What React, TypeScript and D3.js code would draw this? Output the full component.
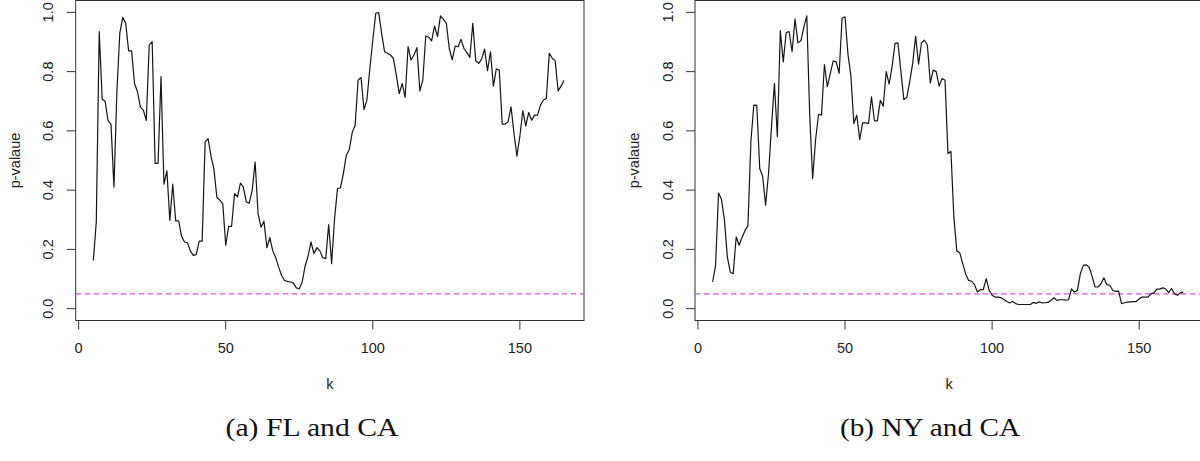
import React from "react";
import * as d3 from "d3";

// First k value; each series holds one p-value per k, k = kStart, kStart + 1, ...
const kStart = 5;

// p-values of the two-sample test, FL vs CA
const flCa = [
  0.163, 0.293, 0.935, 0.707, 0.70, 0.635, 0.622, 0.41, 0.732, 0.93,
  0.983, 0.963, 0.87, 0.87, 0.76, 0.732, 0.68, 0.67, 0.635, 0.89,
  0.901, 0.49, 0.49, 0.783, 0.42, 0.465, 0.298, 0.42, 0.296, 0.296,
  0.244, 0.225, 0.222, 0.194, 0.18, 0.183, 0.228, 0.228, 0.563, 0.574,
  0.515, 0.47, 0.375, 0.366, 0.354, 0.214, 0.278, 0.278, 0.388, 0.377,
  0.424, 0.41, 0.36, 0.356, 0.40, 0.495, 0.32, 0.275, 0.295, 0.206,
  0.24, 0.195, 0.172, 0.14, 0.112, 0.095, 0.092, 0.09, 0.086, 0.07,
  0.067, 0.09, 0.144, 0.177, 0.225, 0.186, 0.206, 0.195, 0.172, 0.169,
  0.284, 0.152, 0.304, 0.405, 0.408, 0.456, 0.518, 0.537, 0.594, 0.619,
  0.771, 0.78, 0.672, 0.704, 0.811, 0.906, 0.997, 0.999, 0.929, 0.867,
  0.862, 0.856, 0.845, 0.788, 0.726, 0.76, 0.713, 0.884, 0.839, 0.856,
  0.881, 0.735, 0.771, 0.92, 0.916, 0.904, 0.954, 0.918, 0.988, 0.976,
  0.963, 0.878, 0.84, 0.886, 0.884, 0.909, 0.878, 0.864, 0.848, 0.963,
  0.836, 0.828, 0.842, 0.876, 0.803, 0.867, 0.751, 0.809, 0.805, 0.623,
  0.623, 0.631, 0.681, 0.591, 0.515, 0.582, 0.668, 0.616, 0.662, 0.636,
  0.653, 0.653, 0.687, 0.704, 0.709, 0.862, 0.845, 0.837, 0.735, 0.751,
  0.77,
];

// p-values of the two-sample test, NY vs CA
const nyCa = [
  0.09, 0.146, 0.39, 0.369, 0.30, 0.174, 0.123, 0.118, 0.242, 0.214,
  0.24, 0.264, 0.28, 0.564, 0.687, 0.686, 0.473, 0.447, 0.349, 0.456,
  0.613, 0.76, 0.58, 0.938, 0.833, 0.932, 0.935, 0.867, 0.977, 0.897,
  0.904, 0.95, 0.988, 0.653, 0.439, 0.571, 0.656, 0.653, 0.824, 0.749,
  0.794, 0.836, 0.833, 0.794, 0.98, 0.985, 0.859, 0.785, 0.625, 0.653,
  0.571, 0.627, 0.627, 0.625, 0.715, 0.634, 0.634, 0.703, 0.683, 0.80,
  0.758, 0.817, 0.895, 0.897, 0.80, 0.706, 0.713, 0.766, 0.828, 0.92,
  0.825, 0.897, 0.906, 0.89, 0.762, 0.805, 0.80, 0.751, 0.777, 0.771,
  0.523, 0.531, 0.309, 0.195, 0.189, 0.152, 0.118, 0.095, 0.093, 0.082,
  0.056, 0.064, 0.064, 0.101, 0.062, 0.045, 0.039, 0.039, 0.037, 0.031,
  0.024, 0.019, 0.024, 0.017, 0.014, 0.014, 0.014, 0.014, 0.014, 0.021,
  0.018, 0.023, 0.019, 0.020, 0.021, 0.028, 0.037, 0.028, 0.03, 0.03,
  0.029, 0.03, 0.067, 0.056, 0.062, 0.118, 0.146, 0.148, 0.14, 0.109,
  0.073, 0.073, 0.084, 0.104, 0.081, 0.079, 0.062, 0.058, 0.059, 0.017,
  0.020, 0.022, 0.023, 0.024, 0.024, 0.033, 0.039, 0.039, 0.039, 0.05,
  0.053, 0.066, 0.066, 0.07, 0.067, 0.054, 0.068, 0.05, 0.045, 0.053,
  0.056,
];

const xTicks = [0, 50, 100, 150];
const yTicks = [0, 0.2, 0.4, 0.6, 0.8, 1.0];
const threshold = 0.05;
const xLabel = "k";
const yLabel = "p-valaue";
const captions = ["(a) FL and CA", "(b) NY and CA"];

const W = 1200;
const H = 461;
const plotTop = 0.5;
const plotBottom = 320.5;
const xDomain: [number, number] = [-1.0, 171.8];
const yDomain: [number, number] = [-0.04, 1.04];

const sansFont = "'Liberation Sans', Arial, Helvetica, sans-serif";
const serifFont = "'Liberation Serif', 'Times New Roman', serif";

type PanelProps = {
  values: number[];
  left: number;
  right: number;
  caption: string;
  captionX: number;
  captionWidth: number;
};

function Panel({ values, left, right, caption, captionX, captionWidth }: PanelProps) {
  const x = d3.scaleLinear().domain(xDomain).range([left, right]);
  const y = d3.scaleLinear().domain(yDomain).range([plotBottom, plotTop]);
  const line = d3
    .line<number>()
    .x((_, i) => x(kStart + i))
    .y((v) => y(v));
  const tick = 9;
  const tickColor = "#333";
  const fontSize = 14.5;

  return (
    <g>
      {/* frame */}
      <rect
        x={left}
        y={plotTop}
        width={right - left}
        height={plotBottom - plotTop}
        fill="none"
        stroke={tickColor}
        strokeWidth={1}
      />
      {/* threshold */}
      <line
        x1={left}
        x2={right}
        y1={y(threshold)}
        y2={y(threshold)}
        stroke="#dd4fdd"
        strokeWidth={1.1}
        strokeDasharray="5.5,3.5"
      />
      {/* p-value trace */}
      <path d={line(values) ?? ""} fill="none" stroke="#151515" strokeWidth={1.2} strokeLinejoin="round" />

      {/* x axis */}
      {xTicks.map((t) => (
        <g key={"x" + t}>
          <line x1={x(t)} x2={x(t)} y1={plotBottom} y2={plotBottom + tick} stroke={tickColor} strokeWidth={1} />
          <text
            x={x(t)}
            y={353}
            textAnchor="middle"
            fontFamily={sansFont}
            fontSize={fontSize}
            fill="#222"
          >
            {t}
          </text>
        </g>
      ))}
      <text x={(left + right) / 2} y={389} textAnchor="middle" fontFamily={sansFont} fontSize={fontSize} fill="#222">
        {xLabel}
      </text>

      {/* y axis */}
      {yTicks.map((t) => (
        <g key={"y" + t}>
          <line x1={left - tick} x2={left} y1={y(t)} y2={y(t)} stroke={tickColor} strokeWidth={1} />
          <text
            transform={`translate(${left - 22.4},${y(t)}) rotate(-90)`}
            textAnchor="middle"
            fontFamily={sansFont}
            fontSize={fontSize}
            fill="#222"
          >
            {d3.format(".1f")(t)}
          </text>
        </g>
      ))}
      <text
        transform={`translate(${left - 56.2},${(plotTop + plotBottom) / 2}) rotate(-90)`}
        textAnchor="middle"
        fontFamily={sansFont}
        fontSize={fontSize}
        fill="#222"
      >
        {yLabel}
      </text>

      {/* caption */}
      <text
        x={captionX}
        y={436}
        textAnchor="middle"
        fontFamily={serifFont}
        fontSize={26}
        textLength={captionWidth}
        lengthAdjust="spacingAndGlyphs"
        fill="#111"
      >
        {caption}
      </text>
    </g>
  );
}

export default function App() {
  return (
    <svg
      width={W}
      height={H}
      viewBox={`0 0 ${W} ${H}`}
      style={{ position: "absolute", left: 0, top: 0, background: "#fff" }}
    >
      <rect width={W} height={H} fill="#fff" />
      <Panel values={flCa} left={75.7} right={584} caption={captions[0]} captionX={312} captionWidth={173} />
      <Panel values={nyCa} left={695} right={1203.3} caption={captions[1]} captionX={930} captionWidth={180} />
    </svg>
  );
}
